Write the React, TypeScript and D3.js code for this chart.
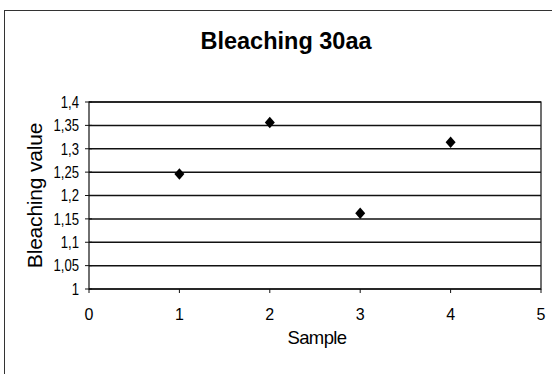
import React from 'react';
import * as d3 from 'd3';

const samples = [1, 2, 3, 4];
const bleaching = [1.246, 1.356, 1.162, 1.314];
const xTicks = [0, 1, 2, 3, 4, 5];
const yTicks = [1, 1.05, 1.1, 1.15, 1.2, 1.25, 1.3, 1.35, 1.4];

const W = 552;
const H = 374;
const font = '"Liberation Sans", Arial, sans-serif';

const App: React.FC = () => {
  const plot = { left: 89, right: 541, top: 102, bottom: 289 };

  const x = d3.scaleLinear().domain([0, 5]).range([plot.left, plot.right]);
  const y = d3.scaleLinear().domain([1, 1.4]).range([plot.bottom, plot.top]);

  const fmt = (v: number) => String(+v.toFixed(2)).replace('.', ',');
  const diamond = d3.symbol().type(d3.symbolSquare).size(50)() as string;

  return (
    <svg
      width={W}
      height={H}
      style={{ position: 'absolute', left: 0, top: 0, background: '#fff' }}
      fontFamily={font}
    >
      {/* chart area frame */}
      <rect x={4.5} y={10.5} width={W} height={H} fill="#fff" stroke="#333" strokeWidth={1} />

      <text x={286} y={49} textAnchor="middle" fontSize={23.5} fontWeight="bold">
        Bleaching 30aa
      </text>

      {/* gridlines */}
      {yTicks.map((t) => (
        <line
          key={'g' + t}
          x1={plot.left}
          x2={plot.right}
          y1={y(t)}
          y2={y(t)}
          stroke="#111"
          strokeWidth={1.5}
        />
      ))}

      <rect
        x={plot.left}
        y={plot.top}
        width={plot.right - plot.left}
        height={plot.bottom - plot.top}
        fill="none"
        stroke="#111"
        strokeWidth={1.2}
      />

      {/* y axis ticks + labels */}
      {yTicks.map((t) => (
        <g key={'y' + t}>
          <line x1={plot.left - 4} x2={plot.left + 3} y1={y(t)} y2={y(t)} stroke="#111" />
          <text
            transform={`translate(79,${y(t)}) scale(0.82,1)`}
            dy="0.36em"
            textAnchor="end"
            fontSize={16}
          >
            {fmt(t)}
          </text>
        </g>
      ))}

      {/* x axis ticks + labels */}
      {xTicks.map((t) => (
        <g key={'x' + t}>
          <line x1={x(t)} x2={x(t)} y1={plot.bottom} y2={plot.bottom + 4} stroke="#111" />
          <text x={x(t)} y={319.5} textAnchor="middle" fontSize={16}>
            {t}
          </text>
        </g>
      ))}

      <text
        transform={`translate(42,${(plot.top + plot.bottom) / 2}) rotate(-90)`}
        textAnchor="middle"
        fontSize={21}
        letterSpacing={-0.2}
      >
        Bleaching value
      </text>

      <text x={317} y={344} textAnchor="middle" fontSize={18.5} letterSpacing={-0.6}>
        Sample
      </text>

      {/* data points */}
      {samples.map((s, i) => (
        <path
          key={'p' + s}
          d={diamond}
          transform={`translate(${x(s)},${y(bleaching[i])}) scale(1,1.15) rotate(45)`}
          fill="#000"
        />
      ))}
    </svg>
  );
};

export default App;
